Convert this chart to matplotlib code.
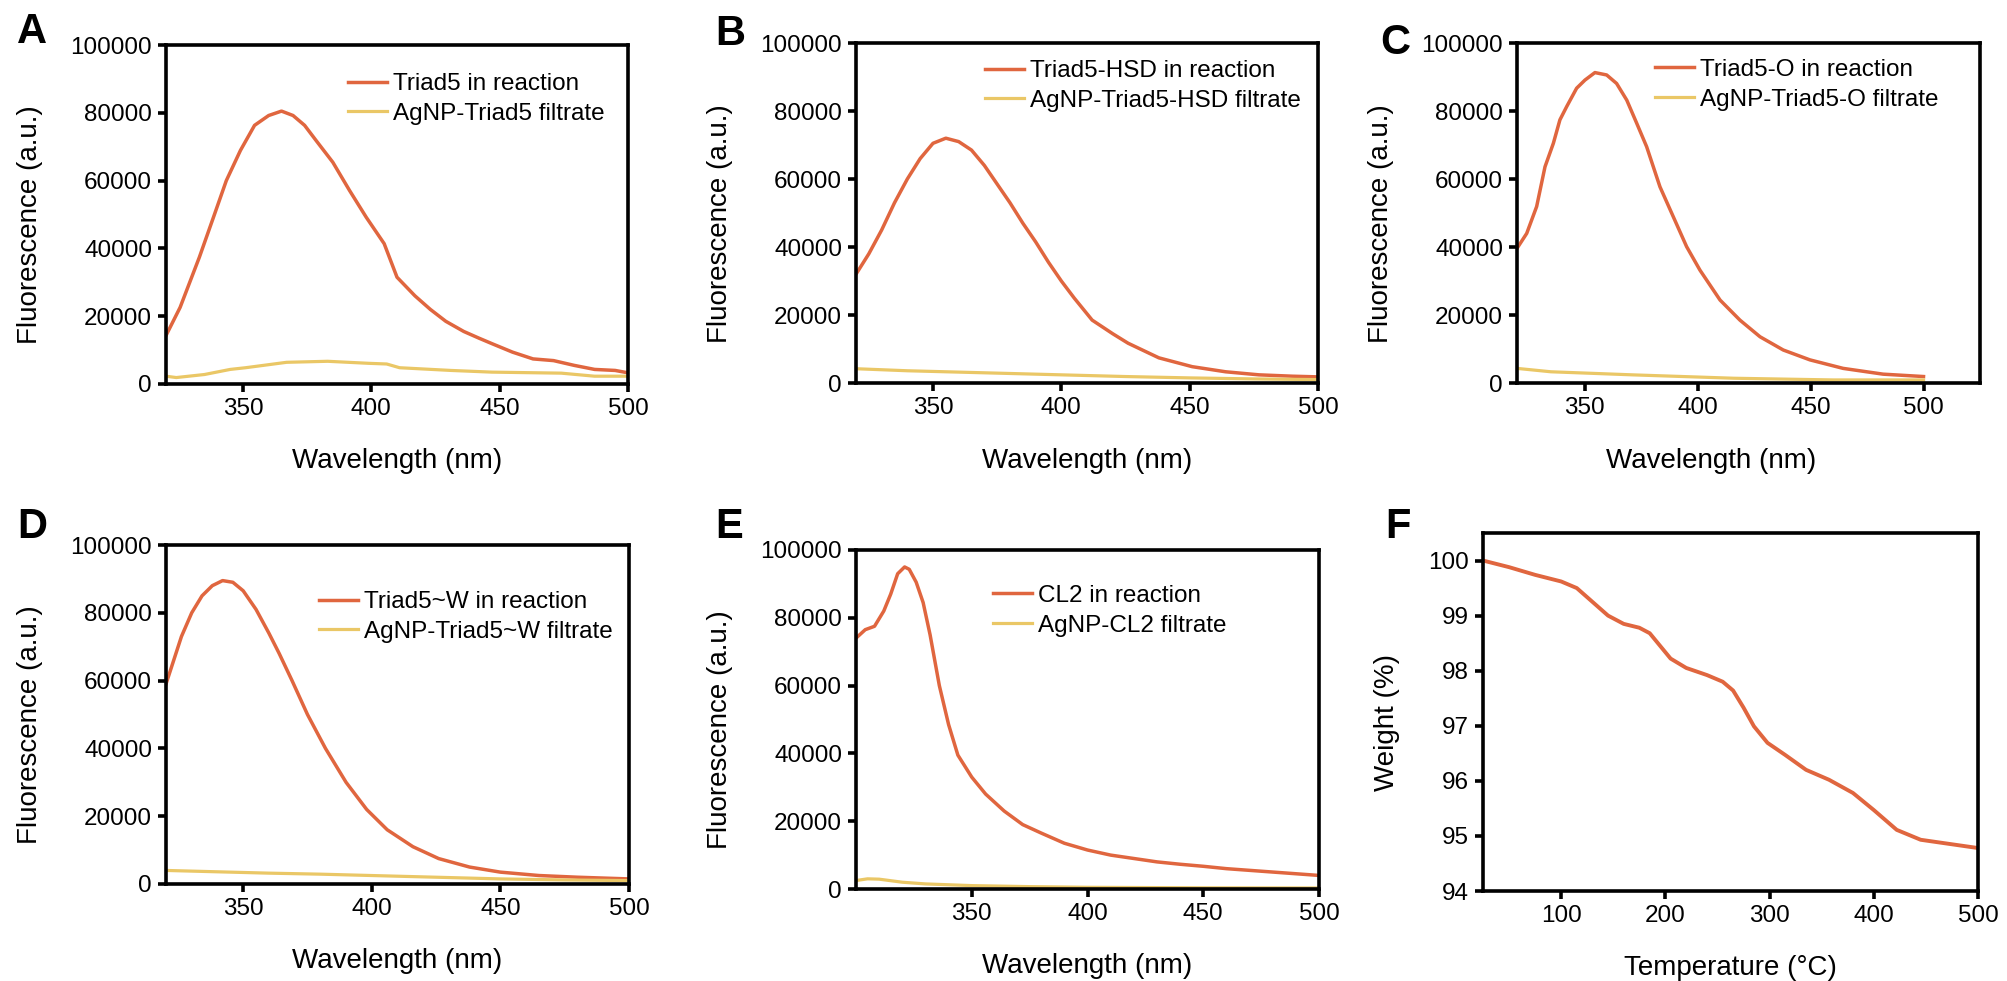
import matplotlib
matplotlib.use("Agg")
import matplotlib.pyplot as plt

plt.rcParams['font.family'] = ['Liberation Sans', 'DejaVu Sans']

RED = '#E0663F'
YEL = '#EAC766'

# --- A: Triad5 ---
a_red_x = [320, 325.5, 333, 338.5, 343.5, 349, 354.5, 360, 365, 369.5, 374, 378.5, 385, 391.5, 398, 405,
           410, 417, 423, 429, 436, 442, 447, 455, 463, 471, 479, 487, 495, 500]
a_red_y = [14300, 22600, 37400, 49200, 60000, 68900, 76300, 79200, 80500, 79200, 76300, 71800, 65400,
           57100, 49200, 41400, 31500, 26000, 22000, 18500, 15500, 13500, 11900, 9400, 7400, 6900, 5500,
           4300, 4000, 3300]
a_yel_x = [320, 324, 335, 345, 351, 367, 383, 399, 406, 411, 431, 447, 474, 487, 500]
a_yel_y = [2300, 1900, 2800, 4300, 4800, 6400, 6700, 6100, 5900, 4800, 4000, 3500, 3200, 2300, 2300]

# --- B: Triad5-HSD ---
b_red_x = [320, 325, 330, 335, 340, 345, 350, 355, 360, 365, 370, 375, 380, 385, 390, 395, 400, 405,
           412, 420, 426, 438, 451, 464, 477, 490, 500]
b_red_y = [32000, 38000, 45000, 53000, 60000, 66000, 70500, 72000, 71000, 68500, 64000, 58500, 53000,
           47000, 41500, 35500, 30000, 25000, 18500, 14500, 11700, 7400, 4800, 3300, 2400, 2000, 1800]
b_yel_x = [320, 340, 360, 380, 400, 425, 450, 475, 500]
b_yel_y = [4200, 3600, 3200, 2800, 2400, 1900, 1500, 1200, 1000]

# --- C: Triad5-O ---
c_red_x = [320, 324.3, 328.7, 332.4, 336.1, 339, 342, 346.4, 350.1, 354.5, 359.7, 364.1, 368.6, 373,
           377.4, 383.3, 389.2, 395.1, 401, 409.9, 418.7, 427.6, 437.9, 449.7, 464.4, 482.1, 500]
c_red_y = [39600, 44000, 51900, 63600, 70500, 77400, 81300, 86700, 89100, 91300, 90600, 88100, 83200,
           76400, 69500, 57700, 48900, 40100, 33200, 24400, 18500, 13600, 9700, 6800, 4300, 2600, 1900]
c_yel_x = [320, 335, 371, 416, 460, 500]
c_yel_y = [4300, 3300, 2400, 1400, 900, 900]

# --- D: Triad5~W ---
d_red_x = [320, 323, 326, 330, 334, 338, 342, 346, 350, 355, 360, 364, 369, 375, 382, 390, 398, 406,
           416, 426, 438, 450, 465, 480, 500]
d_red_y = [59000, 66000, 73000, 80000, 85000, 88000, 89500, 89000, 86500, 81000, 74000, 68000, 60000,
           50000, 40000, 30000, 22000, 16000, 11000, 7500, 5000, 3500, 2500, 2000, 1500]
d_yel_x = [320, 340, 360, 380, 400, 425, 450, 475, 500]
d_yel_y = [4000, 3600, 3200, 2900, 2500, 2000, 1500, 1200, 1000]

# --- E: CL2 ---
e_red_x = [300, 304, 308, 312, 315, 318, 321, 323, 326, 329, 332, 336, 340, 344, 350, 356, 364, 372,
           380, 390, 400, 410, 420, 430, 440, 450, 460, 470, 480, 490, 500]
e_red_y = [74000, 76500, 77500, 82000, 87000, 93000, 95000, 94300, 90500, 84500, 75000, 60000, 48500,
           39500, 33000, 28000, 23000, 19000, 16500, 13500, 11500, 10000, 9000, 8000, 7300, 6700, 6000,
           5500, 5000, 4500, 4000]
e_yel_x = [300, 305, 310, 320, 330, 350, 375, 400, 450, 500]
e_yel_y = [2500, 3000, 2900, 2000, 1500, 1000, 700, 500, 350, 300]

# --- F: TGA ---
f_temp = [25, 50, 75, 100, 115, 130, 145, 160, 175, 185, 195, 205, 220, 240, 255, 265, 275, 285, 298,
          315, 335, 357, 380, 400, 422, 445, 467, 500]
f_weight = [100.0, 99.88, 99.74, 99.62, 99.5, 99.25, 99.0, 98.85, 98.78, 98.68, 98.45, 98.22, 98.05,
            97.92, 97.8, 97.64, 97.33, 96.99, 96.69, 96.47, 96.2, 96.02, 95.78, 95.47, 95.11, 94.93,
            94.87, 94.78]

W, H = 2008, 981
fig = plt.figure(figsize=(W / 100, H / 100), dpi=100)


def add_ax(left, top, right, bottom):
    return fig.add_axes([left / W, 1 - bottom / H, (right - left) / W, (bottom - top) / H])


def style(ax):
    for s in ax.spines.values():
        s.set_linewidth(2.6)
    ax.tick_params(direction='out', length=6, width=2.6, labelsize=17.5, pad=4,
                   top=False, right=False)


def fluo_panel(ax, rx, ry, yx, yy, labels, xlim, leg_xy, xlab_x=0.5):
    ax.plot(rx, ry, color=RED, lw=2.5, label=labels[0])
    ax.plot(yx, yy, color=YEL, lw=2.3, label=labels[1])
    ax.set_xlim(*xlim)
    ax.set_ylim(0, 100000)
    ax.set_xticks([350, 400, 450, 500])
    ax.set_yticks([0, 20000, 40000, 60000, 80000, 100000])
    ax.set_xlabel('Wavelength (nm)', fontsize=20)
    ax.set_ylabel('Fluorescence (a.u.)', fontsize=20)
    ax.xaxis.set_label_coords(xlab_x, -0.19)
    ax.yaxis.set_label_coords(-0.266, 0.47)
    style(ax)
    ax.legend(loc='upper left', bbox_to_anchor=leg_xy, frameon=False, fontsize=17.5,
              handlelength=1.6, handletextpad=0.25, labelspacing=0.32,
              borderaxespad=0, borderpad=0)


axA = add_ax(166, 45, 628, 384)
fluo_panel(axA, a_red_x, a_red_y, a_yel_x, a_yel_y,
           ['Triad5 in reaction', 'AgNP-Triad5 filtrate'], (320, 500), (0.394, 0.917))

axB = add_ax(856, 43, 1318, 383)
fluo_panel(axB, b_red_x, b_red_y, b_yel_x, b_yel_y,
           ['Triad5-HSD in reaction', 'AgNP-Triad5-HSD filtrate'], (320, 500), (0.28, 0.95))

axC = add_ax(1517, 43, 1980, 383)
fluo_panel(axC, c_red_x, c_red_y, c_yel_x, c_yel_y,
           ['Triad5-O in reaction', 'AgNP-Triad5-O filtrate'], (320, 525), (0.298, 0.953),
           xlab_x=0.42)

axD = add_ax(166, 545, 629, 884)
fluo_panel(axD, d_red_x, d_red_y, d_yel_x, d_yel_y,
           ['Triad5~W in reaction', 'AgNP-Triad5~W filtrate'], (320, 500), (0.33, 0.864))

axE = add_ax(856, 550, 1319, 889)
fluo_panel(axE, e_red_x, e_red_y, e_yel_x, e_yel_y,
           ['CL2 in reaction', 'AgNP-CL2 filtrate'], (300, 500), (0.296, 0.897))

axF = add_ax(1483, 533, 1978, 891)
axF.plot(f_temp, f_weight, color=RED, lw=2.8)
axF.set_xlim(25, 500)
axF.set_ylim(94, 100.5)
axF.set_xticks([100, 200, 300, 400, 500])
axF.set_yticks([94, 95, 96, 97, 98, 99, 100])
axF.set_xlabel('Temperature (°C)', fontsize=20)
axF.set_ylabel('Weight (%)', fontsize=20)
axF.xaxis.set_label_coords(0.5, -0.18)
axF.yaxis.set_label_coords(-0.168, 0.47)
style(axF)

for letter, x, y in [('A', 17, 12), ('B', 715, 14), ('C', 1380, 23),
                     ('D', 17, 507), ('E', 715, 507), ('F', 1385, 507)]:
    fig.text(x / W, 1 - y / H, letter, fontsize=30, fontweight='bold', ha='left', va='top')

fig.savefig('out.png', dpi=100)
